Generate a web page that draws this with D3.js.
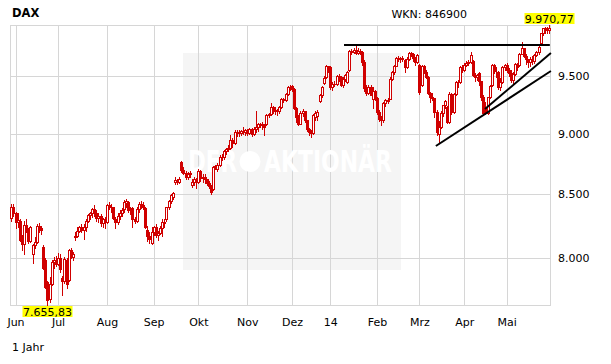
<!DOCTYPE html>
<html>
<head>
<meta charset="utf-8">
<script src="https://cdn.jsdelivr.net/npm/d3@7"></script>
<style>
  body { margin: 0; background: #fff; }
  text { font-family: "DejaVu Sans", Verdana, sans-serif; }
</style>
</head>
<body>
<svg id="chart" width="611" height="364"></svg>
<script>
// trading days: 2 in May 2013, then one entry per session up to end of May 2014
const monthLabels = ['Jun', 'Jul', 'Aug', 'Sep', 'Okt', 'Nov', 'Dez', '14', 'Feb', 'Mrz', 'Apr', 'Mai'];
const monthStart = [2, 22, 45, 67, 88, 111, 132, 150, 172, 192, 213, 233];
const yTicks = [8000, 8500, 9000, 9500];

const opens = [
  8310, 8400,
  // Jun
  8349, 8280, 8290, 8150, 8110, 8254, 8228, 8135, 8030, 8100, 8127, 8248, 8233, 8090, 7990, 7825, 7700, 7810, 7970, 7990,
  // Jul
  7959, 8000, 7850, 7830, 7990, 7840, 8060, 8010, 8160, 8170, 8212, 8237, 8220, 8240, 8290, 8331, 8350, 8380, 8350, 8310, 8330, 8270, 8300,
  // Aug
  8280, 8410, 8400, 8398, 8300, 8280, 8330, 8350, 8380, 8430, 8440, 8380, 8390, 8300, 8290, 8380, 8420, 8416, 8390, 8220, 8170, 8120,
  // Sep
  8200, 8240, 8180, 8195, 8234, 8276, 8300, 8396, 8447, 8480, 8600, 8613, 8600, 8760, 8694, 8675, 8635, 8664, 8570, 8600, 8620,
  // Okt
  8600, 8689, 8630, 8640, 8622, 8591, 8566, 8540, 8719, 8700, 8741, 8800, 8806, 8850, 8866, 8878, 8947, 8920, 9017, 9010, 9003, 9018, 9010,
  // Nov
  9033, 9009, 9040, 8998, 9040, 9060, 9079, 9080, 9070, 9080, 9160, 9168, 9225, 9200, 9193, 9190, 9225, 9299, 9291, 9340, 9404,
  // Dez
  9410, 9390, 9224, 9140, 9084, 9172, 9190, 9114, 9035, 9017, 9006, 9140, 9150, 9280, 9336, 9440, 9490, 9589,
  // Jan
  9580, 9400, 9435, 9428, 9506, 9497, 9421, 9473, 9450, 9560, 9733, 9717, 9742, 9715, 9730, 9720, 9631, 9392, 9349, 9406, 9300, 9373,
  // Feb
  9306, 9186, 9128, 9116, 9265, 9290, 9300, 9478, 9540, 9596, 9662, 9660, 9659, 9650, 9580, 9656, 9708, 9699, 9661, 9631,
  // Mrz
  9600, 9420, 9589, 9542, 9497, 9351, 9312, 9307, 9188, 9000, 9056, 9180, 9242, 9230, 9100, 9343, 9188, 9338, 9448, 9452, 9587,
  // Apr
  9556, 9603, 9623, 9628, 9640, 9510, 9490, 9530, 9455, 9315, 9220, 9174, 9317, 9420, 9600, 9545, 9540, 9402, 9447, 9584,
  // Mai
  9603, 9556, 9529, 9467, 9521, 9607, 9600, 9703, 9754, 9681, 9656, 9630, 9659, 9639, 9697, 9721, 9800, 9892, 9940, 9939, 9920
];
const highs = [
  8420, 8420,
  8360, 8350, 8300, 8180, 8290, 8300, 8235, 8250, 8110, 8160, 8260, 8270, 8250, 8100, 8000, 7830, 7860, 7990, 8010, 8020,
  8040, 8030, 7870, 8010, 8000, 8070, 8080, 8050, 8200, 8240, 8250, 8260, 8260, 8300, 8340, 8360, 8390, 8416, 8370, 8350, 8340, 8310, 8320,
  8420, 8440, 8420, 8400, 8320, 8350, 8370, 8390, 8450, 8460, 8445, 8400, 8400, 8320, 8400, 8440, 8445, 8440, 8395, 8250, 8200, 8240,
  8250, 8260, 8210, 8250, 8300, 8300, 8400, 8450, 8500, 8520, 8640, 8620, 8640, 8770, 8720, 8690, 8680, 8690, 8620, 8640, 8630,
  8700, 8695, 8660, 8660, 8625, 8610, 8575, 8725, 8740, 8750, 8820, 8830, 8860, 8880, 8900, 8990, 8960, 9030, 9030, 9030, 9030, 9060, 9040,
  9040, 9050, 9045, 9060, 9190, 9090, 9090, 9100, 9080, 9170, 9180, 9260, 9240, 9230, 9210, 9240, 9310, 9310, 9350, 9410, 9420,
  9420, 9395, 9230, 9160, 9190, 9210, 9195, 9120, 9050, 9030, 9170, 9190, 9200, 9340, 9410, 9500, 9600, 9595,
  9590, 9450, 9460, 9510, 9520, 9500, 9490, 9520, 9545, 9740, 9750, 9760, 9794, 9760, 9750, 9725, 9650, 9420, 9420, 9420, 9400, 9380,
  9320, 9200, 9150, 9270, 9300, 9310, 9490, 9545, 9600, 9670, 9680, 9670, 9680, 9660, 9670, 9720, 9720, 9710, 9670, 9700,
  9610, 9600, 9600, 9560, 9500, 9360, 9350, 9310, 9200, 9110, 9190, 9250, 9290, 9240, 9360, 9350, 9350, 9460, 9470, 9590, 9600,
  9620, 9640, 9650, 9720, 9650, 9530, 9520, 9540, 9460, 9330, 9270, 9320, 9420, 9610, 9610, 9580, 9545, 9480, 9590, 9610,
  9620, 9570, 9560, 9540, 9620, 9620, 9710, 9810, 9760, 9700, 9660, 9670, 9680, 9700, 9730, 9780, 9900, 9945, 9950, 9950, 9970.77
];
const lows = [
  8290, 8330,
  8230, 8240, 8130, 8060, 8030, 8200, 8120, 8125, 7965, 8080, 8120, 8200, 8190, 7920, 7780, 7655.83, 7680, 7800, 7930, 7940,
  7950, 7900, 7730, 7820, 7780, 7830, 8000, 7990, 8140, 8160, 8200, 8200, 8150, 8210, 8280, 8300, 8320, 8330, 8290, 8280, 8250, 8240, 8230,
  8270, 8380, 8360, 8300, 8230, 8260, 8300, 8330, 8360, 8400, 8360, 8340, 8240, 8270, 8280, 8360, 8390, 8380, 8230, 8130, 8120, 8110,
  8180, 8160, 8140, 8190, 8170, 8240, 8290, 8380, 8430, 8460, 8580, 8580, 8590, 8680, 8660, 8620, 8620, 8640, 8560, 8570, 8550,
  8590, 8610, 8600, 8590, 8570, 8550, 8500, 8530, 8700, 8690, 8730, 8780, 8790, 8830, 8850, 8870, 8890, 8915, 8980, 8980, 8990, 9000, 8990,
  8990, 9000, 8980, 8990, 9010, 9020, 9060, 9040, 8990, 9070, 9140, 9160, 9180, 9170, 9160, 9180, 9220, 9270, 9280, 9330, 9380,
  9370, 9210, 9100, 9070, 9080, 9150, 9100, 9020, 8990, 8970, 9000, 9120, 9120, 9270, 9320, 9430, 9480, 9540,
  9390, 9380, 9410, 9420, 9460, 9410, 9400, 9460, 9440, 9550, 9700, 9710, 9700, 9700, 9700, 9600, 9370, 9330, 9340, 9330, 9220, 9290,
  9170, 9110, 9070, 9100, 9240, 9260, 9295, 9470, 9520, 9590, 9640, 9630, 9640, 9540, 9570, 9650, 9680, 9640, 9600, 9620,
  9340, 9410, 9530, 9480, 9340, 9270, 9290, 9140, 8990, 8920, 9050, 9150, 9220, 9090, 9090, 9170, 9180, 9330, 9400, 9440, 9540,
  9550, 9590, 9600, 9620, 9500, 9460, 9470, 9420, 9290, 9160, 9165, 9170, 9310, 9410, 9530, 9490, 9390, 9380, 9440, 9560,
  9540, 9500, 9450, 9430, 9510, 9560, 9590, 9700, 9670, 9610, 9580, 9590, 9610, 9620, 9680, 9700, 9790, 9880, 9900, 9900, 9900
];
const closes = [
  8400, 8349,
  8281, 8295, 8142, 8106, 8254, 8228, 8135, 8240, 8100, 8127, 8248, 8233, 8220, 7929, 7789, 7692, 7810, 7970, 7990, 7959,
  8000, 7920, 7829, 7994, 7806, 8060, 8010, 8030, 8170, 8212, 8237, 8220, 8240, 8290, 8331, 8350, 8380, 8350, 8310, 8330, 8270, 8300, 8276,
  8410, 8403, 8398, 8310, 8280, 8330, 8350, 8370, 8435, 8445, 8373, 8391, 8300, 8290, 8380, 8420, 8416, 8400, 8240, 8170, 8150, 8200,
  8240, 8180, 8195, 8234, 8276, 8273, 8396, 8447, 8494, 8509, 8613, 8600, 8619, 8694, 8675, 8635, 8664, 8669, 8600, 8620, 8594,
  8689, 8630, 8640, 8622, 8591, 8566, 8516, 8719, 8725, 8741, 8804, 8806, 8850, 8866, 8878, 8947, 8920, 9017, 9010, 9003, 9018, 9010, 9033,
  9009, 9040, 8998, 9040, 9060, 9079, 9080, 9070, 9054, 9160, 9168, 9225, 9200, 9193, 9190, 9225, 9299, 9291, 9340, 9404, 9405,
  9390, 9224, 9140, 9084, 9172, 9190, 9114, 9035, 9017, 9006, 9163, 9180, 9181, 9336, 9400, 9488, 9589, 9552,
  9400, 9435, 9428, 9506, 9497, 9421, 9473, 9510, 9540, 9733, 9717, 9742, 9715, 9730, 9720, 9631, 9392, 9349, 9406, 9336, 9373, 9306,
  9186, 9128, 9116, 9265, 9290, 9285, 9478, 9540, 9596, 9662, 9660, 9659, 9661, 9580, 9656, 9708, 9699, 9661, 9631, 9692,
  9358, 9589, 9542, 9497, 9351, 9312, 9307, 9188, 9017, 9056, 9180, 9242, 9277, 9100, 9343, 9188, 9338, 9448, 9452, 9587, 9556,
  9603, 9623, 9628, 9695, 9510, 9490, 9507, 9455, 9315, 9173, 9174, 9317, 9409, 9600, 9545, 9548, 9402, 9447, 9584, 9603,
  9556, 9529, 9467, 9521, 9607, 9581, 9703, 9754, 9681, 9656, 9630, 9659, 9639, 9697, 9721, 9768, 9892, 9940, 9939, 9920, 9943
];

// drawn trend lines: [day index, index level]
const resistanceLine = [[156.5, 9785], [253.3, 9785]];
const supportLong = [[199.7, 8895], [253.8, 9547]];
const supportShort = [[222.8, 9211], [253.8, 9711]];

if (new Set([opens.length, highs.length, lows.length, closes.length, 254]).size !== 1) {
  throw new Error('length mismatch ' + [opens.length, highs.length, lows.length, closes.length].join(','));
}

const plotLeft = 10.5, plotRight = 550, plotTop = 25, plotBottom = 305;
const red = '#d00000';

const de = d3.formatLocale({decimal: ',', thousands: '.', grouping: [3], currency: ['', '']});
const fmtTick = de.format(',');
const fmtPrice = de.format(',.2f');

const n = closes.length;
const candles = d3.range(n).map(i => ({i: i, o: opens[i], h: highs[i], l: lows[i], c: closes[i]}));

const x = d3.scaleLinear().domain([0, n - 1]).range([11.25, 549.2]);
const y = d3.scaleLog().domain([d3.min(lows), d3.max(highs)]).range([plotBottom, plotTop]);

const svg = d3.select('#chart');

// watermark box
svg.append('rect')
  .attr('x', 183).attr('y', 53).attr('width', 218).attr('height', 217)
  .attr('fill', '#f5f5f5');

// horizontal grid + right labels
const yAxis = svg.append('g')
  .attr('transform', `translate(${plotRight},0)`)
  .call(d3.axisRight(y).tickValues(yTicks).tickFormat(fmtTick)
    .tickSize(-(plotRight - plotLeft)).tickPadding(8));
yAxis.select('.domain').remove();
yAxis.selectAll('line').attr('stroke', '#d6d6d6').attr('shape-rendering', 'crispEdges');
yAxis.selectAll('text').attr('fill', '#000').style('font-size', '11px')
  .style('font-family', '"DejaVu Sans", Verdana, sans-serif');

// vertical grid + month labels
const xAxis = svg.append('g')
  .attr('transform', `translate(0,${plotBottom})`)
  .call(d3.axisBottom(x).tickValues(monthStart)
    .tickFormat((d, k) => monthLabels[k])
    .tickSize(-(plotBottom - plotTop)).tickPadding(13));
xAxis.select('.domain').remove();
xAxis.selectAll('line').attr('stroke', '#d6d6d6').attr('shape-rendering', 'crispEdges');
xAxis.selectAll('text').attr('fill', '#000').style('font-size', '11px')
  .style('font-family', '"DejaVu Sans", Verdana, sans-serif');

// watermark lettering
const wm = svg.append('g').attr('fill', '#fff');
wm.append('text')
  .attr('x', 188).attr('y', 172)
  .attr('textLength', 49).attr('lengthAdjust', 'spacingAndGlyphs')
  .style('font-family', '"Liberation Sans Narrow", "DejaVu Sans Condensed", "Liberation Sans", sans-serif')
  .style('font-weight', 'bold').style('font-size', '30px')
  .text('DER');
wm.append('circle').attr('cx', 250).attr('cy', 161.5).attr('r', 10.5);
wm.append('text')
  .attr('x', 264).attr('y', 172)
  .attr('textLength', 128).attr('lengthAdjust', 'spacingAndGlyphs')
  .style('font-family', '"Liberation Sans Narrow", "DejaVu Sans Condensed", "Liberation Sans", sans-serif')
  .style('font-weight', 'bold').style('font-size', '30px')
  .text('AKTIONÄR');

// frame
svg.append('rect')
  .attr('x', plotLeft).attr('y', plotTop + 0.5)
  .attr('width', plotRight - plotLeft).attr('height', plotBottom - plotTop)
  .attr('fill', 'none').attr('stroke', '#d6d6d6')
  .attr('shape-rendering', 'crispEdges');

// candles
const cx = d => Math.round(x(d.i)) + 0.5;
const g = svg.append('g').attr('shape-rendering', 'crispEdges');
g.selectAll('line.wick').data(candles).join('line')
  .attr('class', 'wick')
  .attr('x1', cx).attr('x2', cx)
  .attr('y1', d => Math.round(y(d.h))).attr('y2', d => Math.round(y(d.l)) + 1)
  .attr('stroke', red);
g.selectAll('rect.down').data(candles.filter(d => d.c < d.o)).join('rect')
  .attr('class', 'down')
  .attr('x', d => cx(d) - 1.5).attr('width', 3)
  .attr('y', d => Math.round(y(d.o)))
  .attr('height', d => Math.max(1, Math.round(y(d.c)) - Math.round(y(d.o)) + 1))
  .attr('fill', red);
g.selectAll('rect.up').data(candles.filter(d => d.c >= d.o)).join('rect')
  .attr('class', 'up')
  .attr('x', d => cx(d) - 1).attr('width', 2)
  .attr('y', d => Math.round(y(d.c)) + 0.5)
  .attr('height', d => Math.max(0, Math.round(y(d.o)) - Math.round(y(d.c))))
  .attr('fill', '#fff').attr('stroke', red);

// trend lines
[resistanceLine, supportLong, supportShort].forEach(pts => {
  svg.append('line')
    .attr('x1', x(pts[0][0])).attr('y1', y(pts[0][1]))
    .attr('x2', x(pts[1][0])).attr('y2', y(pts[1][1]))
    .attr('stroke', '#000').attr('stroke-width', 2);
});

// high / low markers
function marker(idx, val, above) {
  const t = svg.append('text')
    .attr('x', x(idx)).attr('y', above ? plotTop - 2.5 : plotBottom + 10.5)
    .attr('text-anchor', 'middle')
    .style('font-size', '11px')
    .text(fmtPrice(val));
  const bb = t.node().getBBox();
  svg.insert('rect', () => t.node())
    .attr('x', Math.round(bb.x) - 0.5).attr('width', Math.round(bb.width) + 1)
    .attr('y', above ? plotTop - 12 : plotBottom + 1).attr('height', 11)
    .attr('fill', '#ffff00');
}
const iMax = d3.maxIndex(highs), iMin = d3.minIndex(lows);
marker(iMax, highs[iMax], true);
marker(iMin, lows[iMin], false);

// titles
svg.append('text').attr('x', 12).attr('y', 17)
  .style('font-size', '11.5px').style('font-weight', 'bold').text('DAX');
svg.append('text').attr('x', 467).attr('y', 18).attr('text-anchor', 'end')
  .style('font-size', '11px').text('WKN: 846900');
svg.append('text').attr('x', 12).attr('y', 351)
  .style('font-size', '11px').text('1 Jahr');
</script>
</body>
</html>
